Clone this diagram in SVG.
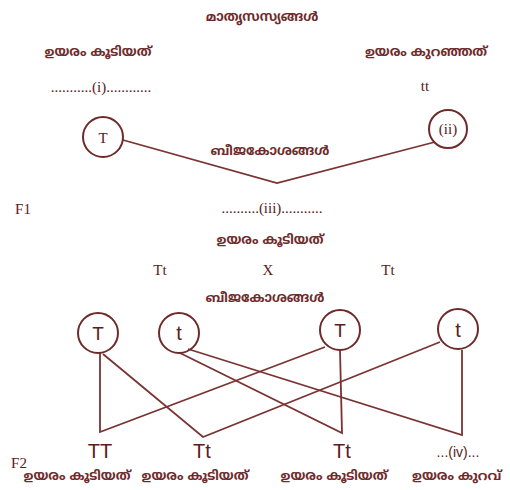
<svg xmlns="http://www.w3.org/2000/svg" width="510" height="490" viewBox="0 0 510 490">
<style>
.ml{font-family:"Noto Sans Malayalam","Noto Sans","DejaVu Sans",sans-serif;font-size:13px;font-weight:bold;fill:#6e2b2b;text-anchor:middle}
.sr{font-family:"Liberation Serif","Times New Roman",serif;font-size:15px;fill:#5a2020;text-anchor:middle}
.ss{font-family:"Liberation Sans",Arial,sans-serif;fill:#5a2020;text-anchor:middle}
.c{fill:none;stroke:#6e2b2b;stroke-width:2}
.ln{fill:none;stroke:#7a3333;stroke-width:1.8;stroke-linejoin:miter}
</style>
<rect width="510" height="490" fill="#ffffff"/>
<g id="titles">
<text class="ml" x="262" y="21" font-size="14.5">മാതൃസസ്യങ്ങൾ</text>
<text class="ml" x="98" y="56">ഉയരം കൂടിയത്</text>
<text class="sr" x="101" y="92">...........(i)............</text>
<text class="ml" x="426" y="56">ഉയരം കുറഞ്ഞത്</text>
<text class="sr" x="425" y="91">tt</text>
<text class="ml" x="270" y="155">ബീജകോശങ്ങൾ</text>
<text class="sr" x="23" y="214" font-size="16">F1</text>
<text class="sr" x="272" y="213">..........(iii)...........</text>
<text class="ml" x="270" y="244">ഉയരം കൂടിയത്</text>
<text class="sr" x="160" y="275">Tt</text>
<text class="sr" x="268" y="275">X</text>
<text class="sr" x="388" y="275">Tt</text>
<text class="ml" x="265" y="302">ബീജകോശങ്ങൾ</text>
<text class="sr" x="19" y="468" font-size="16">F2</text>
</g>
<g id="connectors">
<polyline class="ln" points="123,140 277,183 435,142"/>
<polyline class="ln" points="100,353 100,432 325,347"/>
<polyline class="ln" points="103,354 203,437 440,342"/>
<polyline class="ln" points="180,353 342,433 340,350"/>
<polyline class="ln" points="188,349 462,435 462,350"/>
</g>
<g id="p1"><circle class="c" cx="103" cy="137" r="20"/><text class="sr" x="103" y="143" font-size="18">T</text></g>
<g id="p2"><circle class="c" cx="448" cy="129" r="19"/><text class="sr" x="448" y="134" font-size="14">(ii)</text></g>
<g id="g1"><circle class="c" cx="98" cy="333" r="20"/><text class="ss" x="98" y="340" font-size="19">T</text></g>
<g id="g2"><circle class="c" cx="179" cy="333" r="20"/><text class="ss" x="179" y="340" font-size="20">t</text></g>
<g id="g3"><circle class="c" cx="340" cy="330" r="20"/><text class="ss" x="340" y="337" font-size="19">T</text></g>
<g id="g4"><circle class="c" cx="458" cy="329" r="20"/><text class="ss" x="458" y="337" font-size="20">t</text></g>
<g id="o1"><text class="ss" x="100" y="458" font-size="20">TT</text><text class="ml" x="77" y="480" font-size="14.5">ഉയരം കൂടിയത്</text></g>
<g id="o2"><text class="ss" x="202" y="458" font-size="20">Tt</text><text class="ml" x="195" y="480" font-size="14.5">ഉയരം കൂടിയത്</text></g>
<g id="o3"><text class="ss" x="342" y="458" font-size="20">Tt</text><text class="ml" x="334" y="480" font-size="14.5">ഉയരം കൂടിയത്</text></g>
<g id="o4"><text class="ss" x="458" y="457" font-size="14">...(iv)...</text><text class="ml" x="412" y="480" font-size="14.5" style="text-anchor:start">ഉയരം കുറവ്</text></g>
</svg>
